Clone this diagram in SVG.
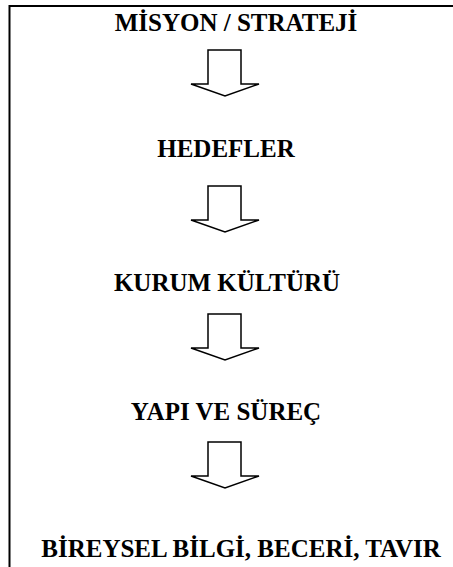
<svg xmlns="http://www.w3.org/2000/svg" width="453" height="567" viewBox="0 0 453 567">
  <style>
    .label { font-family: "Liberation Serif", "Times New Roman", serif; font-weight: bold; font-size: 25px; fill: #000; text-anchor: middle; }
    .frame { fill: none; stroke: #000; stroke-width: 2; }
    .arrow { fill: #fff; stroke: #000; stroke-width: 1.5; stroke-linejoin: miter; }
  </style>
  <defs>
    <!-- hollow block arrow pointing down: stem 33 wide, head 68 wide -->
    <path id="down" d="M208,0 H241 V34 H259 L225,46 L191,34 H208 Z"/>
  </defs>
  <rect width="453" height="567" fill="#fff"/>
  <!-- frame: top and left edges only -->
  <path class="frame" d="M9.5,567 V6 H453"/>

  <g id="node-misyon"><text class="label" x="236" y="31">MİSYON / STRATEJİ</text></g>
  <g id="node-hedefler"><text class="label" x="226" y="157">HEDEFLER</text></g>
  <g id="node-kultur"><text class="label" x="227" y="291">KURUM KÜLTÜRÜ</text></g>
  <g id="node-yapi"><text class="label" x="226" y="420">YAPI VE SÜREÇ</text></g>
  <g id="node-bireysel"><text class="label" x="241" y="557">BİREYSEL BİLGİ, BECERİ, TAVIR</text></g>

  <g id="connectors">
    <use href="#down" class="arrow" transform="translate(0,50)"/>
    <use href="#down" class="arrow" transform="translate(0,186)"/>
    <use href="#down" class="arrow" transform="translate(0,314)"/>
    <use href="#down" class="arrow" transform="translate(0,442)"/>
  </g>
</svg>
